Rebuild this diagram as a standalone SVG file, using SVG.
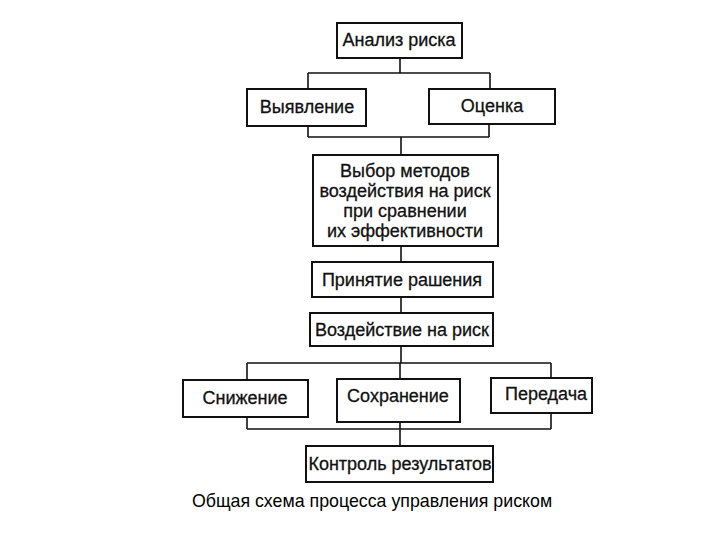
<svg xmlns="http://www.w3.org/2000/svg" width="720" height="540" viewBox="0 0 720 540">
<style>
.box{fill:#fff;stroke:#111;stroke-width:2}
.t{font-family:"Liberation Sans",Arial,sans-serif;font-size:18px;fill:#111;text-anchor:middle;stroke:#111;stroke-width:0.3}
.c{fill:none;stroke:#111;stroke-width:1.6}
.cap{font-family:"Liberation Sans",Arial,sans-serif;font-size:17.8px;fill:#000;text-anchor:middle}
</style>
<rect width="720" height="540" fill="#fff"/>
<g id="connectors">
<path class="c" d="M400,58V73M308,73H490M308,73V89M490,73V89"/>
<path class="c" d="M308,126V137M489,124V137M308,137H489M401,137V155"/>
<path class="c" d="M401,246V262M401,297V313M401,346V363"/>
<path class="c" d="M247,363H551M247,363V380M551,363V378M400,363V379"/>
<path class="c" d="M247,417V429M551,413V429M247,429H551M400,422V446"/>
</g>
<g id="analiz"><rect class="box" x="337" y="23" width="125" height="35"/><text class="t" x="399" y="46">Анализ риска</text></g>
<g id="vyyavlenie"><rect class="box" x="247" y="89" width="119" height="37"/><text class="t" x="307" y="113">Выявление</text></g>
<g id="otsenka"><rect class="box" x="429" y="89" width="126" height="35"/><text class="t" x="492" y="112">Оценка</text></g>
<g id="vybor"><rect class="box" x="313" y="155" width="185" height="91"/>
<text class="t" x="405" y="177">Выбор методов</text>
<text class="t" x="405" y="197">воздействия на риск</text>
<text class="t" x="405" y="217">при сравнении</text>
<text class="t" x="405" y="237">их эффективности</text></g>
<g id="prinyatie"><rect class="box" x="312" y="262" width="181" height="35"/><text class="t" x="402" y="286">Принятие рашения</text></g>
<g id="vozdeystvie"><rect class="box" x="310" y="313" width="183" height="33"/><text class="t" x="402" y="336">Воздействие на риск</text></g>
<g id="snizhenie"><rect class="box" x="183" y="380" width="125" height="37"/><text class="t" x="245" y="404">Снижение</text></g>
<g id="sokhranenie"><rect class="box" x="337" y="379" width="123" height="43"/><text class="t" x="398" y="402">Сохранение</text></g>
<g id="peredacha"><rect class="box" x="491" y="378" width="101" height="35"/><text class="t" x="546" y="400">Передача</text></g>
<g id="kontrol"><rect class="box" x="306" y="446" width="187" height="36"/><text class="t" x="400" y="470">Контроль результатов</text></g>
<text class="cap" x="372" y="507">Общая схема процесса управления риском</text>
</svg>
